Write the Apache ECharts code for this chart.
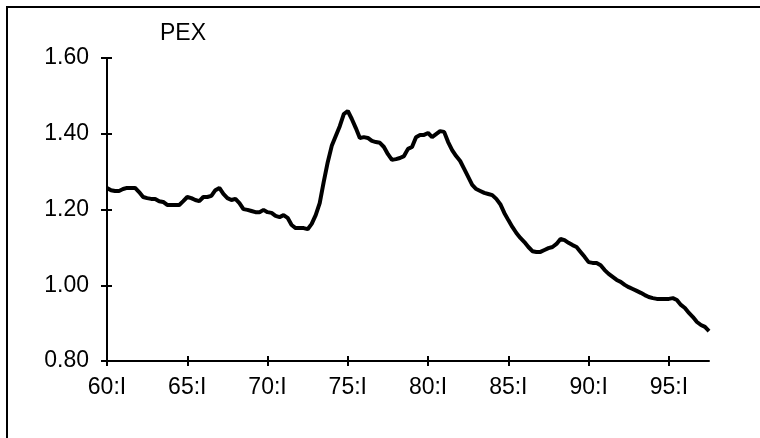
<!DOCTYPE html>
<html>
<head>
<meta charset="utf-8">
<script src="https://cdn.jsdelivr.net/npm/echarts@6/dist/echarts.min.js"></script>
<style>
  html, body { margin: 0; padding: 0; background: #fff; }
  #chart { width: 760px; height: 438px; }
</style>
</head>
<body>
<div id="chart"></div>
<script>
// quarterly series, 60:I .. 97:III
const startYear = 60
const quarterNames = ['I', 'II', 'III', 'IV']
const pexValues = [
  1.257, 1.251, 1.249, 1.249, 1.254, 1.257, 1.257, 1.257, 1.246, 1.233,
  1.230, 1.228, 1.228, 1.222, 1.220, 1.212, 1.212, 1.212, 1.212, 1.222,
  1.233, 1.230, 1.225, 1.222, 1.233, 1.233, 1.236, 1.251, 1.257, 1.241,
  1.230, 1.225, 1.228, 1.217, 1.201, 1.199, 1.196, 1.193, 1.193, 1.199,
  1.193, 1.191, 1.183, 1.180, 1.185, 1.178, 1.159, 1.151, 1.151, 1.151,
  1.148, 1.162, 1.185, 1.217, 1.273, 1.325, 1.368, 1.394, 1.420, 1.452,
  1.460, 1.439, 1.415, 1.389, 1.391, 1.389, 1.381, 1.378, 1.376, 1.365,
  1.346, 1.331, 1.333, 1.336, 1.341, 1.360, 1.365, 1.391, 1.397, 1.397,
  1.402, 1.391, 1.399, 1.407, 1.405, 1.378, 1.357, 1.341, 1.328, 1.307,
  1.286, 1.265, 1.254, 1.249, 1.244, 1.241, 1.238, 1.228, 1.214, 1.191,
  1.172, 1.154, 1.138, 1.125, 1.114, 1.101, 1.090, 1.088, 1.088, 1.093,
  1.098, 1.101, 1.109, 1.122, 1.119, 1.112, 1.106, 1.101, 1.088, 1.075,
  1.061, 1.059, 1.059, 1.053, 1.040, 1.030, 1.022, 1.014, 1.009, 1.001,
  0.995, 0.990, 0.985, 0.980, 0.974, 0.969, 0.966, 0.964, 0.964, 0.964,
  0.964, 0.966, 0.961, 0.948, 0.940, 0.927, 0.916, 0.903, 0.895, 0.890,
  0.879
]
const yTicks = [0.8, 1.0, 1.2, 1.4, 1.6]

// category labels like "60:I"
const categories = pexValues.map((v, i) =>
  (startYear + Math.floor(i / 4)) + ':' + quarterNames[i % 4])

const FONT = 'Liberation Sans, Arial, sans-serif'
const fontSize = 23

let chart = echarts.init(document.getElementById('chart'), null, { renderer: 'canvas' })

const option = {
  animation: false,
  backgroundColor: '#fff',
  title: {
    text: 'PEX',
    left: 160,
    top: 22,
    padding: 0,
    textStyle: { fontFamily: FONT, fontSize: fontSize, fontWeight: 'normal', color: '#000' }
  },
  grid: { left: 107, right: 51, top: 58, bottom: 77 },
  graphic: [
    {
      type: 'rect',
      shape: { x: 7, y: 7, width: 800, height: 500 },
      style: { fill: 'none', stroke: '#000', lineWidth: 2 },
      silent: true,
      z: -1
    }
  ],
  xAxis: [
    {
      type: 'category',
      data: categories,
      boundaryGap: false,
      position: 'bottom',
      axisLine: { onZero: false, lineStyle: { color: '#000', width: 2 } },
      axisTick: { interval: 19, length: 5, lineStyle: { color: '#000', width: 2 } },
      axisLabel: { interval: 19, margin: 15, color: '#000', fontFamily: FONT, fontSize: fontSize },
      splitLine: { show: false }
    },
    {
      // inner half of the crossing ticks
      type: 'category',
      data: categories,
      boundaryGap: false,
      position: 'bottom',
      axisLine: { show: false, onZero: false },
      axisTick: { inside: true, interval: 19, length: 5, lineStyle: { color: '#000', width: 2 } },
      axisLabel: { show: false },
      splitLine: { show: false }
    }
  ],
  yAxis: [
    {
      type: 'value',
      min: yTicks[0],
      max: yTicks[yTicks.length - 1],
      interval: 0.2,
      position: 'left',
      axisLine: { show: true, onZero: false, lineStyle: { color: '#000', width: 2 } },
      axisTick: { show: true, length: 6, lineStyle: { color: '#000', width: 2 } },
      axisLabel: {
        margin: 18, color: '#000', fontFamily: FONT, fontSize: fontSize,
        formatter: v => v.toFixed(2)
      },
      splitLine: { show: false }
    },
    {
      type: 'value',
      min: yTicks[0],
      max: yTicks[yTicks.length - 1],
      interval: 0.2,
      position: 'left',
      axisLine: { show: false, onZero: false },
      axisTick: { show: true, inside: true, length: 5, lineStyle: { color: '#000', width: 2 } },
      axisLabel: { show: false },
      splitLine: { show: false }
    }
  ],
  series: [
    {
      name: 'PEX',
      type: 'line',
      xAxisIndex: 0,
      yAxisIndex: 0,
      data: pexValues,
      showSymbol: false,
      smooth: false,
      lineStyle: { color: '#000', width: 4 },
      z: 5
    }
  ]
}

chart.setOption(option)
</script>
</body>
</html>
